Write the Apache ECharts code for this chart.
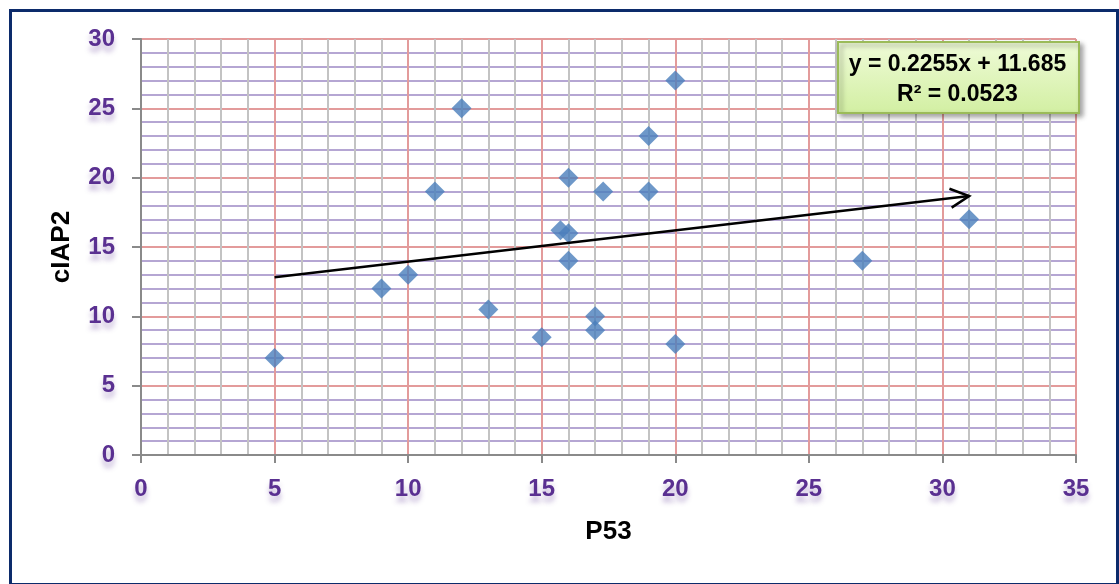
<!DOCTYPE html>
<html>
<head>
<meta charset="utf-8">
<script src="https://cdn.jsdelivr.net/npm/echarts@6/dist/echarts.min.js"></script>
<style>
  html, body { margin: 0; padding: 0; background: #ffffff; }
  #chart { width: 1119px; height: 584px; }
</style>
</head>
<body>
<div id="chart"></div>
<script>
// P53 vs cIAP2 measurements
const p53Values   = [5, 9, 10, 11, 12, 13, 15, 15.7, 16, 16, 16, 17, 17, 17.3, 19, 19, 20, 20, 27, 31];
const ciap2Values = [7, 12, 13, 19, 25, 10.5, 8.5, 16.2, 16, 20, 14, 10, 9, 19, 23, 19, 27, 8, 14, 17];

// Linear trend line fitted to the data
const SLOPE = 0.2255;
const INTERCEPT = 11.685;
const R_SQUARED = 0.0523;

// Axis ranges
const X_MIN = 0, X_MAX = 35, X_STEP = 5;
const Y_MIN = 0, Y_MAX = 30, Y_STEP = 5;

const points = p53Values.map((x, i) => [x, ciap2Values[i]]);
const trendStart = Math.min(...p53Values);
const trendEnd = Math.max(...p53Values);
const trendData = [[trendStart, SLOPE * trendStart + INTERCEPT, trendEnd, SLOPE * trendEnd + INTERCEPT]];

const equationText = 'y = ' + SLOPE.toFixed(4) + 'x + ' + INTERCEPT.toFixed(3);
const r2Text = 'R² = ' + R_SQUARED.toFixed(4);

const labelColor = '#5a3091';
const labelStyle = {
  color: labelColor,
  fontFamily: 'Liberation Sans',
  fontWeight: 'bold',
  fontSize: 24,
  textShadowColor: 'rgba(90,48,145,0.35)',
  textShadowBlur: 5,
  textShadowOffsetY: 6
};

const chart = echarts.init(document.getElementById('chart'), null, { renderer: 'canvas' });

chart.setOption({
  backgroundColor: '#ffffff',
  animation: false,
  grid: { left: 141, top: 39, right: 43, bottom: 129 },
  xAxis: {
    type: 'value',
    min: X_MIN, max: X_MAX, interval: X_STEP,
    name: 'P53',
    nameLocation: 'middle',
    nameGap: 64,
    nameTextStyle: { color: '#000', fontFamily: 'Liberation Sans', fontWeight: 'bold', fontSize: 26 },
    axisLine: { show: true, onZero: false, lineStyle: { color: '#8a8a8a', width: 2 } },
    axisTick: { show: true, length: 8, lineStyle: { color: '#8a8a8a', width: 2 } },
    axisLabel: Object.assign({ margin: 22 }, labelStyle),
    splitLine: { show: true, lineStyle: { color: '#e39b9b', width: 2 } },
    minorTick: { show: false, splitNumber: 5 },
    minorSplitLine: { show: true, lineStyle: { color: '#c3c3c3', width: 2 } }
  },
  yAxis: {
    type: 'value',
    min: Y_MIN, max: Y_MAX, interval: Y_STEP,
    name: 'cIAP2',
    nameLocation: 'middle',
    nameRotate: 90,
    nameGap: 66,
    nameTextStyle: { color: '#000', fontFamily: 'Liberation Sans', fontWeight: 'bold', fontSize: 26 },
    axisLine: { show: true, onZero: false, lineStyle: { color: '#8a8a8a', width: 2 } },
    axisTick: { show: true, length: 9, lineStyle: { color: '#8a8a8a', width: 2 } },
    axisLabel: Object.assign({ margin: 26 }, labelStyle),
    splitLine: { show: true, lineStyle: { color: '#e39b9b', width: 2 } },
    minorTick: { show: false, splitNumber: 5 },
    minorSplitLine: { show: true, lineStyle: { color: '#b5a6d3', width: 2 } }
  },
  series: [
    {
      type: 'scatter',
      data: points,
      symbol: 'diamond',
      symbolSize: 20,
      itemStyle: { color: '#4a7ebb' },
      z: 3
    },
    {
      type: 'custom',
      data: trendData,
      z: 4,
      silent: true,
      renderItem: function (params, api) {
        const p0 = api.coord([api.value(0), api.value(1)]);
        const p1 = api.coord([api.value(2), api.value(3)]);
        const ang = Math.atan2(p1[1] - p0[1], p1[0] - p0[0]);
        const headLen = 21, spread = 0.47;
        const a1 = [p1[0] - headLen * Math.cos(ang - spread), p1[1] - headLen * Math.sin(ang - spread)];
        const a2 = [p1[0] - headLen * Math.cos(ang + spread), p1[1] - headLen * Math.sin(ang + spread)];
        const style = { stroke: '#000', lineWidth: 2.5, fill: null };
        return {
          type: 'group',
          children: [
            { type: 'line', shape: { x1: p0[0], y1: p0[1], x2: p1[0], y2: p1[1] }, style: style },
            { type: 'polyline', shape: { points: [a1, p1, a2] }, style: style }
          ]
        };
      }
    }
  ],
  graphic: [
    {
      type: 'rect',
      left: 8, top: 8,
      shape: { width: 1107, height: 574 },
      style: { fill: null, stroke: '#0c2b6b', lineWidth: 3 },
      z: 100
    },
    // trend equation box
    {
      type: 'rect',
      left: 837, top: 41,
      z: 110,
      shape: { width: 241, height: 71 },
      style: {
        fill: new echarts.graphic.LinearGradient(0, 0, 0, 1, [
          { offset: 0, color: '#effbd8' },
          { offset: 1, color: '#d2efa2' }
        ]),
        stroke: '#9bbb59',
        lineWidth: 2,
        shadowColor: 'rgba(0,0,0,0.35)',
        shadowBlur: 5,
        shadowOffsetX: 3,
        shadowOffsetY: 3
      }
    },
    {
      type: 'text',
      x: 957.5, y: 65,
      z: 111,
      style: {
        text: equationText,
        fill: '#000',
        fontFamily: 'Liberation Sans', fontWeight: 'bold', fontSize: 23,
        align: 'center', verticalAlign: 'middle'
      }
    },
    {
      type: 'text',
      x: 957.5, y: 95,
      z: 111,
      style: {
        text: r2Text,
        fill: '#000',
        fontFamily: 'Liberation Sans', fontWeight: 'bold', fontSize: 23,
        align: 'center', verticalAlign: 'middle'
      }
    }
  ]
});
</script>
</body>
</html>
